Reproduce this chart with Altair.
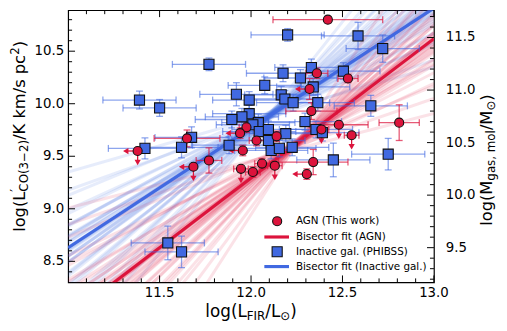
import altair as alt
import pandas as pd

# ---------------- data ----------------
# AGN (This work)
agn_x = [12.42, 12.36, 12.53, 12.32, 12.33, 12.385, 12.48, 12.81, 12.55, 12.14, 12.03, 11.975,
         11.94, 12.01, 12.06, 12.13, 12.34, 12.305, 11.38, 11.685, 11.77, 11.955, 11.945, 11.65]
agn_y = [10.80, 10.29, 10.24, 10.14, 9.93, 9.755, 9.80, 9.82, 9.70, 9.69, 9.65, 9.775,
         9.72, 9.35, 9.43, 9.41, 9.445, 9.33, 9.55, 9.40, 9.46, 9.555, 9.38, 9.67]
agn_xerr = [0.30, 0.06, 0.055, 0.0, 0.14, 0.04, 0.16, 0.11, 0.04, 0.0, 0.04, 0.04,
            0.0, 0.04, 0.04, 0.04, 0.19, 0.0, 0.0, 0.0, 0.07, 0.0, 0.04, 0.18]
agn_yerr = [0.03, 0.05, 0.04, 0.10, 0.08, 0.0, 0.0, 0.17, 0.0, 0.05, 0.05, 0.05,
            0.05, 0.05, 0.05, 0.0, 0.12, 0.05, 0.0, 0.0, 0.12, 0.05, 0.0, 0.08]
agn_xlim = [0, 0, 0, 1, 0, 0, 0, 0, 0, 1, 0, 0, 1, 0, 0, 0, 0, 1, 1, 1, 0, 1, 0, 0]
agn_ylim = [0, 0, 0, 0, 0, 1, 1, 0, 1, 0, 0, 0, 0, 0, 0, 1, 0, 0, 1, 1, 0, 0, 1, 0]

# Inactive galaxies (PHIBSS)
gal_x = [11.77, 11.39, 11.50, 11.92, 11.99, 11.99, 11.95, 11.895, 11.675, 11.42, 11.62, 11.88,
         12.20, 12.585, 12.72, 12.175, 12.33, 12.505, 12.27, 12.075, 12.34, 12.165, 12.185, 12.23,
         12.365, 12.655, 12.04, 12.01, 12.045, 12.095, 12.295, 12.19, 12.355, 12.39, 12.095, 12.11,
         12.155, 12.225, 12.45, 12.75, 11.545, 11.62]
gal_y = [10.375, 10.035, 9.96, 10.09, 10.035, 9.905, 9.875, 9.85, 9.68, 9.575, 9.585, 9.605,
         10.655, 10.645, 10.525, 10.29, 10.345, 10.31, 10.245, 10.175, 10.16, 10.085, 10.045, 10.01,
         10.01, 9.98, 9.82, 9.80, 9.735, 9.755, 9.83, 9.715, 9.755, 9.725, 9.65, 9.555,
         9.575, 9.585, 9.465, 9.52, 8.675, 8.59]
gal_xerr = [0.20] * 42
gal_yerr = [0.06, 0.085, 0.08, 0.11, 0.08, 0.08, 0.08, 0.08, 0.10, 0.10, 0.10, 0.08,
            0.06, 0.13, 0.13, 0.08, 0.08, 0.08, 0.08, 0.08, 0.08, 0.08, 0.08, 0.08,
            0.08, 0.10, 0.08, 0.08, 0.08, 0.08, 0.08, 0.08, 0.08, 0.08, 0.08, 0.08,
            0.08, 0.08, 0.16, 0.15, 0.16, 0.15]

# bisector fits: slope, value at log LFIR = 12
agn_fit = (1.326, 9.293)
gal_fit = (1.14, 9.77)

# bootstrap realisations: slope, value at pivot
agn_pivot = 12.25
agn_boot_slope = [0.45, 0.60, 0.72, 0.82, 0.90, 0.96, 1.02, 1.06, 1.10, 1.13,
                  1.16, 1.19, 1.22, 1.24, 1.26, 1.28, 1.30, 1.31, 1.32, 1.33,
                  1.34, 1.35, 1.37, 1.39, 1.41, 1.44, 1.47, 1.50, 1.54, 1.58,
                  1.62, 1.67, 1.72, 1.78, 1.85, 1.93, 2.02, 2.15, 2.35, 2.70]
agn_boot_val = [9.57, 9.60, 9.63, 9.58, 9.62, 9.66, 9.60, 9.63, 9.59, 9.65,
                9.61, 9.64, 9.60, 9.62, 9.66, 9.61, 9.63, 9.59, 9.64, 9.62,
                9.60, 9.63, 9.65, 9.61, 9.62, 9.60, 9.64, 9.62, 9.66, 9.59,
                9.63, 9.61, 9.65, 9.60, 9.62, 9.64, 9.61, 9.63, 9.60, 9.62]
gal_pivot = 12.10
gal_boot_slope = [0.50, 0.62, 0.72, 0.80, 0.86, 0.91, 0.95, 0.98, 1.01, 1.04,
                  1.06, 1.08, 1.10, 1.11, 1.12, 1.13, 1.14, 1.15, 1.16, 1.17,
                  1.18, 1.19, 1.21, 1.23, 1.25, 1.27, 1.30, 1.33, 1.36, 1.40,
                  1.44, 1.48, 1.53, 1.58, 1.64, 1.70, 1.78, 1.88, 2.00, 2.20]
gal_boot_val = [9.90, 9.86, 9.92, 9.87, 9.90, 9.85, 9.89, 9.91, 9.86, 9.88,
                9.90, 9.87, 9.89, 9.92, 9.86, 9.88, 9.88, 9.90, 9.87, 9.89,
                9.91, 9.86, 9.88, 9.90, 9.87, 9.89, 9.92, 9.86, 9.88, 9.90,
                9.87, 9.89, 9.91, 9.86, 9.88, 9.90, 9.87, 9.89, 9.88, 9.90]

x_major = [11.5, 12.0, 12.5, 13.0]
x_minor = [11.1, 11.2, 11.3, 11.4, 11.6, 11.7, 11.8, 11.9, 12.1, 12.2, 12.3, 12.4,
           12.6, 12.7, 12.8, 12.9]
y_major = [8.5, 9.0, 9.5, 10.0, 10.5]
y_minor = [8.4, 8.6, 8.7, 8.8, 8.9, 9.1, 9.2, 9.3, 9.4, 9.6, 9.7, 9.8, 9.9,
           10.1, 10.2, 10.3, 10.4, 10.6, 10.7, 10.8]
y2_major = [9.5, 10.0, 10.5, 11.0, 11.5]
y2_minor = [9.2, 9.3, 9.4, 9.6, 9.7, 9.8, 9.9, 10.1, 10.2, 10.3, 10.4, 10.6, 10.7,
            10.8, 10.9, 11.1, 11.2, 11.3, 11.4, 11.6, 11.7]
legend_labels = ["AGN (This work)", "Bisector fit (AGN)", "Inactive gal. (PHIBSS)",
                 "Bisector fit (Inactive gal.)"]

# ---------------- layout ----------------
W, H = 371, 276
X_DOM = [11.0, 13.0]
Y_DOM = [8.30, 10.89]
OFF = 0.87
FONT = "DejaVu Sans"
RED = "#DC143C"
BLUE = "#4169E1"
TICKFS = 13.5

xs = alt.Scale(domain=X_DOM, nice=False, zero=False)
ys = alt.Scale(domain=Y_DOM, nice=False, zero=False)
ys2 = alt.Scale(domain=[Y_DOM[0] + OFF, Y_DOM[1] + OFF], nice=False, zero=False)


def X(f):
    return alt.X(f, scale=xs, axis=None)


def Y(f):
    return alt.Y(f, scale=ys, axis=None)


def Y2(f):
    return alt.Y(f, scale=ys2, axis=None)


agn = pd.DataFrame(dict(x=agn_x, y=agn_y, xe=agn_xerr, ye=agn_yerr, xl=agn_xlim, yl=agn_ylim))
agn["x0"] = agn.x - agn.xe
agn["x1"] = agn.x + agn.xe
agn["y0"] = agn.y - agn.ye
agn["y1"] = agn.y + agn.ye
agn["xa"] = agn.x - 0.065
agn["ya"] = agn.y - 0.11

gal = pd.DataFrame(dict(x=gal_x, y=gal_y, xe=gal_xerr, ye=gal_yerr))
gal["x0"] = gal.x - gal.xe
gal["x1"] = gal.x + gal.xe
gal["y0"] = gal.y - gal.ye
gal["y1"] = gal.y + gal.ye


def fan_df(slopes, vals, piv):
    rows = []
    for i, (s, v) in enumerate(zip(slopes, vals)):
        for xx in X_DOM:
            rows.append(dict(id=i, x=xx, y=v + s * (xx - piv)))
    return pd.DataFrame(rows)


def fit_df(fit):
    s, v = fit
    return pd.DataFrame(dict(x=X_DOM, y=[v + s * (xx - 12.0) for xx in X_DOM]))


def fan(df, color, op):
    return alt.Chart(df).mark_line(color=color, opacity=op, strokeWidth=3, clip=True).encode(
        x=X("x:Q"), y=Y("y:Q"), detail="id:N")


def fitline(df, color):
    return alt.Chart(df).mark_line(color=color, strokeWidth=3.2, clip=True).encode(
        x=X("x:Q"), y=Y("y:Q"))


def errbars(df, color, op):
    b = alt.Chart(df)
    hx = b.transform_filter("datum.xe > 0")
    vy = b.transform_filter("datum.ye > 0")
    return [
        hx.mark_rule(color=color, opacity=op, strokeWidth=1.3).encode(x=X("x0:Q"), x2="x1:Q", y=Y("y:Q")),
        hx.mark_tick(orient="vertical", color=color, opacity=op, size=7, thickness=1.3).encode(x=X("x0:Q"), y=Y("y:Q")),
        hx.mark_tick(orient="vertical", color=color, opacity=op, size=7, thickness=1.3).encode(x=X("x1:Q"), y=Y("y:Q")),
        vy.mark_rule(color=color, opacity=op, strokeWidth=1.3).encode(x=X("x:Q"), y=Y("y0:Q"), y2="y1:Q"),
        vy.mark_tick(orient="horizontal", color=color, opacity=op, size=7, thickness=1.3).encode(x=X("x:Q"), y=Y("y0:Q")),
        vy.mark_tick(orient="horizontal", color=color, opacity=op, size=7, thickness=1.3).encode(x=X("x:Q"), y=Y("y1:Q")),
    ]


def limits(df, color):
    b = alt.Chart(df)
    xl = b.transform_filter("datum.xl == 1")
    yl = b.transform_filter("datum.yl == 1")
    return [
        xl.mark_rule(color=color, strokeWidth=1.3).encode(x=X("xa:Q"), x2="x:Q", y=Y("y:Q")),
        xl.mark_point(shape="triangle-left", filled=True, color=color, size=40, opacity=1).encode(x=X("xa:Q"), y=Y("y:Q")),
        yl.mark_rule(color=color, strokeWidth=1.3).encode(x=X("x:Q"), y=Y("ya:Q"), y2="y:Q"),
        yl.mark_point(shape="triangle-down", filled=True, color=color, size=40, opacity=1).encode(x=X("x:Q"), y=Y("ya:Q")),
    ]


gal_pts = alt.Chart(gal).mark_point(shape="square", filled=True, fill=BLUE, stroke="#111111",
                                     strokeWidth=1.1, size=105, opacity=1).encode(x=X("x:Q"), y=Y("y:Q"))
agn_pts = alt.Chart(agn).mark_point(shape="circle", filled=True, fill=RED, stroke="#111111",
                                     strokeWidth=1.1, size=85, opacity=1).encode(x=X("x:Q"), y=Y("y:Q"))


# inward ticks
def rule(d):
    return alt.Chart(d).mark_rule(color="black", strokeWidth=1)


def ticks_x(vals, ln):
    d = pd.DataFrame(dict(v=vals))
    return [rule(d).encode(x=X("v:Q"), y=alt.value(H), y2=alt.value(H - ln)),
            rule(d).encode(x=X("v:Q"), y=alt.value(0), y2=alt.value(ln))]


def ticks_y(vals, ln):
    d = pd.DataFrame(dict(v=vals))
    return [rule(d).encode(y=Y("v:Q"), x=alt.value(0), x2=alt.value(ln))]


def ticks_y2(vals, ln):
    d = pd.DataFrame(dict(v=vals))
    return [rule(d).encode(y=Y2("v:Q"), x=alt.value(W), x2=alt.value(W - ln))]


def lab_df(vals):
    return pd.DataFrame(dict(v=vals, t=["%.1f" % v for v in vals]))


tick_labels = [
    alt.Chart(lab_df(x_major)).mark_text(font=FONT, fontSize=TICKFS, color="black", align="center",
                                          baseline="top").encode(x=X("v:Q"), y=alt.value(H + 4), text="t:N"),
    alt.Chart(lab_df(y_major)).mark_text(font=FONT, fontSize=TICKFS, color="black", align="right",
                                          baseline="middle").encode(y=Y("v:Q"), x=alt.value(-4), text="t:N"),
]
right_labels = [
    alt.Chart(lab_df(y2_major)).mark_text(font=FONT, fontSize=TICKFS, color="black", align="left",
                                           baseline="middle").encode(y=Y2("v:Q"), x=alt.value(W + 12), text="t:N"),
]

# ---------------- titles with sub/superscripts ----------------
MET = {'l': .278, 'o': .612, 'g': .635, '(': .390, ')': .390, 'L': .557, '/': .337, 'F': .575,
       'I': .295, 'R': .695, '\u2299': .838, 'C': .698, 'O': .787, '3': .636, '2': .636,
       '\u2212': .838, 'K': .656, ' ': .318, 'k': .579, 'm': .974, 's': .521, 'p': .635,
       'c': .550, 'M': .863, 'a': .613, ',': .318, '\u2032': .30}


def wid(s, fs):
    return sum(MET.get(c, .6) for c in s) * fs


def text_layer(s, fs, x, y, angle=0):
    d = pd.DataFrame(dict(t=[s]))
    kw = dict(font=FONT, fontSize=fs, color="black", align="left", baseline="alphabetic")
    if angle:
        kw["angle"] = angle
    return alt.Chart(d).mark_text(**kw).encode(x=alt.value(x), y=alt.value(y), text="t:N")


def h_title(segs, cx, by):
    total = sum(wid(s, fs) for s, fs, sh, adv in segs if adv)
    x0 = cx - total / 2
    out = []
    for s, fs, sh, adv in segs:
        out.append(text_layer(s, fs, x0, by + sh))
        if adv:
            x0 += wid(s, fs)
    return out


def v_title(segs, cy, bx):
    total = sum(wid(s, fs) for s, fs, sh, adv in segs if adv)
    y0 = cy + total / 2
    out = []
    for s, fs, sh, adv in segs:
        out.append(text_layer(s, fs, bx + sh, y0, angle=270))
        if adv:
            y0 -= wid(s, fs)
    return out


BIG, SM = 17, 12
xtitle = h_title([("log(L", BIG, 0, True), ("FIR", SM, 3.5, True), ("/L", BIG, 0, True),
                  ("\u2299", SM, 3.5, True), (")", BIG, 0, True)], W / 2, 311)
ytitle = v_title([("log(L", 16.5, 0, True), ("\u2032", 13, -6, False), ("CO(3\u22122)", SM, 3.5, True),
                  ("/K km/s pc", 16.5, 0, True), ("2", SM, -6, True), (")", 16.5, 0, True)], 128, -44)
y2title = v_title([("log(M", 16.5, 0, True), ("gas, mol", SM, 3, True), ("/M", 16.5, 0, True),
                   ("\u2299", SM, 3, True), (")", 16.5, 0, True)], 152, 430)

# ---------------- legend ----------------
LX, TX = 212, 231
LY = [214, 230, 245, 260]


def one(lab):
    return alt.Chart(pd.DataFrame(dict(t=[lab])))


legend = [
    one(legend_labels[0]).mark_point(shape="circle", filled=True, fill=RED, stroke="#111111",
                                     strokeWidth=1.1, size=85, opacity=1).encode(
        x=alt.value(LX), y=alt.value(LY[0])),
    one(legend_labels[1]).mark_rule(color=RED, strokeWidth=3.2).encode(
        x=alt.value(LX - 13), x2=alt.value(LX + 12), y=alt.value(LY[1])),
    one(legend_labels[2]).mark_point(shape="square", filled=True, fill=BLUE, stroke="#111111",
                                     strokeWidth=1.1, size=105, opacity=1).encode(
        x=alt.value(LX), y=alt.value(LY[2])),
    one(legend_labels[3]).mark_rule(color=BLUE, strokeWidth=3.2).encode(
        x=alt.value(LX - 13), x2=alt.value(LX + 12), y=alt.value(LY[3])),
]
for i, lab in enumerate(legend_labels):
    legend.append(one(lab).mark_text(font=FONT, fontSize=10.5, color="black", align="left",
                                     baseline="middle").encode(x=alt.value(TX), y=alt.value(LY[i]), text="t:N"))

# ---------------- assemble ----------------
main_layers = ([fan(fan_df(gal_boot_slope, gal_boot_val, gal_pivot), BLUE, 0.13),
                fan(fan_df(agn_boot_slope, agn_boot_val, agn_pivot), RED, 0.12),
                fitline(fit_df(gal_fit), BLUE), fitline(fit_df(agn_fit), RED)]
               + errbars(gal, BLUE, 0.6) + errbars(agn, RED, 0.7) + limits(agn, RED)
               + [gal_pts, agn_pts]
               + ticks_x(x_major, 7) + ticks_x(x_minor, 4) + ticks_y(y_major, 7) + ticks_y(y_minor, 4)
               + tick_labels + xtitle + ytitle + y2title + legend)
main = alt.layer(*main_layers)

right = alt.layer(*(ticks_y2(y2_major, 7) + ticks_y2(y2_minor, 4) + right_labels))

chart = alt.layer(main, right).resolve_scale(y="independent").properties(
    width=W, height=H,
    padding={"left": 61, "top": 0, "right": 66, "bottom": 40},
    autosize=alt.AutoSizeParams(type="none"),
).configure_view(stroke="black", strokeWidth=1.2)

chart.save("out.html", embed_options={"renderer": "svg", "actions": False})
